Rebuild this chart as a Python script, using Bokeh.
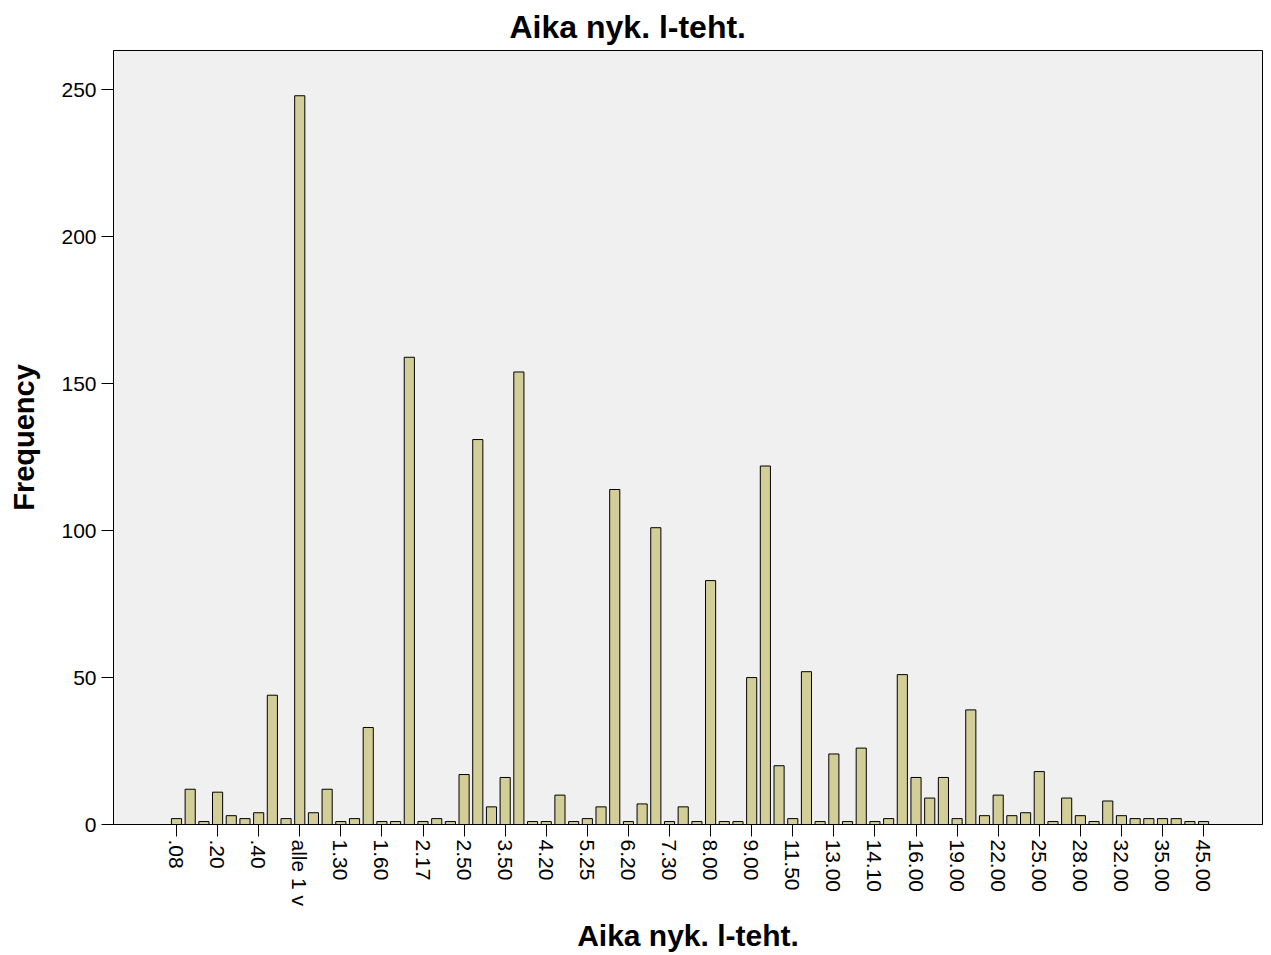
import math
from bokeh.plotting import figure
from bokeh.models import ColumnDataSource, FixedTicker, Range1d
from bokeh.embed import file_html
from bokeh.resources import INLINE

# ---- data ----
categories = [
    ".08", ".10", ".15", ".20", ".25", ".30", ".40", ".50", ".75", "alle 1 v",
    "1.00", "1.20", "1.30", "1.40", "1.50", "1.60", "1.80", "2.00", "2.17", "2.25",
    "2.40", "2.50", "3.00", "3.25", "3.50", "4.00", "4.10", "4.20", "4.50", "4.80",
    "5.25", "5.50", "6.00", "6.20", "6.50", "7.00", "7.30", "7.50", "7.80", "8.00",
    "8.30", "8.50", "9.00", "10.00", "11.00", "11.50", "12.00", "12.50", "13.00", "13.50",
    "14.00", "14.10", "14.50", "15.00", "16.00", "17.00", "18.00", "19.00", "20.00", "21.00",
    "22.00", "23.00", "24.00", "25.00", "26.00", "27.00", "28.00", "29.00", "30.00", "32.00",
    "33.00", "34.00", "35.00", "40.00", "42.00", "45.00",
]
frequencies = [
    2, 12, 1, 11, 3, 2, 4, 44, 2, 248,
    4, 12, 1, 2, 33, 1, 1, 159, 1, 2,
    1, 17, 131, 6, 16, 154, 1, 1, 10, 1,
    2, 6, 114, 1, 7, 101, 1, 6, 1, 83,
    1, 1, 50, 122, 20, 2, 52, 1, 24, 1,
    26, 1, 2, 51, 16, 9, 16, 2, 39, 3,
    10, 3, 4, 18, 1, 9, 3, 1, 8, 3,
    2, 2, 2, 2, 1, 1,
]
tick_labels = [
    ".08", ".20", ".40", "alle 1 v", "1.30", "1.60", "2.17", "2.50", "3.50", "4.20",
    "5.25", "6.20", "7.30", "8.00", "9.00", "11.50", "13.00", "14.10", "16.00", "19.00",
    "22.00", "25.00", "28.00", "32.00", "35.00", "45.00",
]
y_ticks = [0, 50, 100, 150, 200, 250]
title_text = "Aika nyk. l-teht."
x_label = "Aika nyk. l-teht."
y_label = "Frequency"

FONT = "Liberation Sans"

x = list(range(len(categories)))
source = ColumnDataSource(dict(x=x, category=categories, frequency=frequencies))

p = figure(
    width=1271, height=955,
    output_backend="svg", toolbar_location=None,
    x_range=Range1d(-4.6, 79.3), y_range=Range1d(0, 263.4),
    min_border_left=113, min_border_right=9, min_border_top=50, min_border_bottom=131,
)

p.vbar(x="x", top="frequency", width=0.74, source=source,
       fill_color="#D3CE97", line_color="#000000", line_width=1)

p.background_fill_color = "#F0F0F0"
p.border_fill_color = "white"
p.outline_line_color = "#000000"
p.outline_line_width = 1
p.xgrid.visible = False
p.ygrid.visible = False

# title
p.title.text = title_text
p.title.align = "left"
p.title.offset = 396
p.title.text_font = FONT
p.title.text_font_size = "32px"
p.title.text_font_style = "bold"
p.title.text_color = "#000000"
p.title.standoff = 11

# x axis
xa = p.xaxis[0]
xa.ticker = FixedTicker(ticks=[categories.index(l) for l in tick_labels])
xa.major_label_overrides = {categories.index(l): l for l in tick_labels}
xa.major_label_orientation = -math.pi / 2
xa.major_label_text_font = FONT
xa.major_label_text_font_size = "21px"
xa.major_label_text_color = "#000000"
xa.major_label_standoff = 3
xa.major_tick_out = 12
xa.major_tick_in = 0
xa.minor_tick_out = 0
xa.minor_tick_in = 0
xa.axis_line_color = "#000000"
xa.major_tick_line_color = "#000000"
xa.axis_label = x_label
xa.axis_label_text_font = FONT
xa.axis_label_text_font_size = "30px"
xa.axis_label_text_font_style = "bold"
xa.axis_label_text_color = "#000000"
xa.axis_label_standoff = 10

# y axis
ya = p.yaxis[0]
ya.ticker = FixedTicker(ticks=y_ticks)
ya.major_label_text_font = FONT
ya.major_label_text_font_size = "21px"
ya.major_label_text_color = "#000000"
ya.major_label_standoff = 5
ya.major_tick_out = 12
ya.major_tick_in = 0
ya.minor_tick_out = 0
ya.minor_tick_in = 0
ya.axis_line_color = "#000000"
ya.major_tick_line_color = "#000000"
ya.axis_label = y_label
ya.axis_label_text_font = FONT
ya.axis_label_text_font_size = "29px"
ya.axis_label_text_font_style = "bold"
ya.axis_label_text_color = "#000000"
ya.axis_label_standoff = 18

open("out.html", "w").write(file_html(p, INLINE))
